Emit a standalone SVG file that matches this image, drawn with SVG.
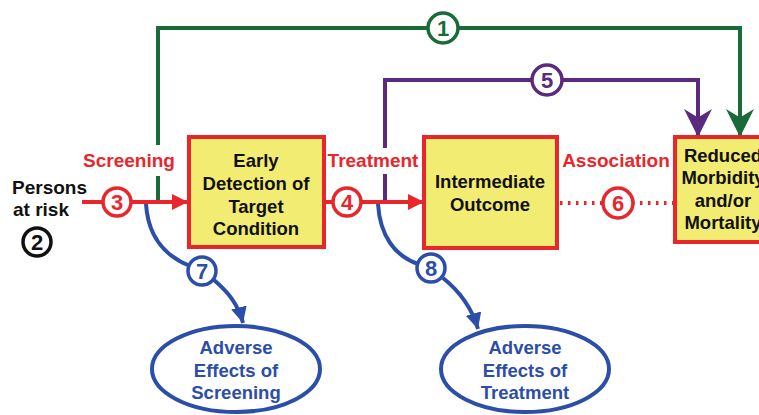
<svg xmlns="http://www.w3.org/2000/svg" width="759" height="415" viewBox="0 0 759 415">
<style>
.box{fill:#f2ec72;stroke:#e8262c;stroke-width:4}
.t{font-family:"Liberation Sans",Arial,sans-serif;font-weight:bold;font-size:18.5px;text-anchor:middle}
.lab{font-size:19px}
.bk{fill:#111}
.rd{fill:#e8262c}
.bl{fill:#2b4ea8}
.gn{fill:#1a6b3a}
.pp{fill:#5a2a7e}
.num{font-family:"Liberation Sans",Arial,sans-serif;font-weight:bold;font-size:22px;text-anchor:middle}
.circ{fill:#fff;stroke-width:3.5}
.ell{fill:#fff;stroke:#2b4ea8;stroke-width:4}
</style>
<defs>
<marker id="ar" viewBox="0 0 10 10" refX="10" refY="5" markerWidth="4" markerHeight="4" markerUnits="strokeWidth" orient="auto"><path d="M0,0 L10,5 L0,10 z" fill="#e8262c"/></marker>
<marker id="ag" viewBox="0 0 10 10" refX="10" refY="5" markerWidth="7" markerHeight="7" markerUnits="strokeWidth" orient="auto"><path d="M0,0 L10,5 L0,10 L3,5 z" fill="#1a6b3a"/></marker>
<marker id="ap" viewBox="0 0 10 10" refX="10" refY="5" markerWidth="7" markerHeight="7" markerUnits="strokeWidth" orient="auto"><path d="M0,0 L10,5 L0,10 L3,5 z" fill="#5a2a7e"/></marker>
<marker id="ab" viewBox="0 0 10 10" refX="10" refY="5" markerWidth="4" markerHeight="4" markerUnits="strokeWidth" orient="auto"><path d="M0,0 L10,5 L0,10 z" fill="#2b4ea8"/></marker>
</defs>
<rect width="759" height="415" fill="#fff"/>
<g id="connectors" fill="none">
<path d="M158,145 V28 H740 V137" stroke="#1a6b3a" stroke-width="4" marker-end="url(#ag)"/>
<path d="M158,176 V202" stroke="#1a6b3a" stroke-width="4"/>
<path d="M385,148 V80 H698 V137" stroke="#5a2a7e" stroke-width="4" marker-end="url(#ap)"/>
<path d="M385,174 V202" stroke="#5a2a7e" stroke-width="4"/>
<path d="M82,202 H188" stroke="#e8262c" stroke-width="4" marker-end="url(#ar)"/>
<path d="M324,202 H424" stroke="#e8262c" stroke-width="4" marker-end="url(#ar)"/>
<path d="M560,203 H675" stroke="#e8262c" stroke-width="4" stroke-dasharray="2.5,5.5"/>
<path d="M146,204 C148,236 165,256 190,266" stroke="#2b4ea8" stroke-width="4"/>
<path d="M214,280 C228,292 238,304 243,323" stroke="#2b4ea8" stroke-width="4" marker-end="url(#ab)"/>
<path d="M378,204 C380,236 395,256 418,264" stroke="#2b4ea8" stroke-width="4"/>
<path d="M443,278 C458,290 471,305 478,329" stroke="#2b4ea8" stroke-width="4" marker-end="url(#ab)"/>
</g>
<g id="label-screening"><text class="t lab rd" x="129" y="167">Screening</text></g>
<g id="label-treatment"><text class="t lab rd" x="373" y="167">Treatment</text></g>
<g id="label-association"><text class="t lab rd" x="616" y="167">Association</text></g>
<g id="persons">
<text class="t lab bk" x="12" y="194" style="text-anchor:start">Persons</text>
<text class="t lab bk" x="13" y="216" style="text-anchor:start">at risk</text>
</g>
<g id="n1"><circle class="circ" cx="443" cy="28" r="15" stroke="#1a6b3a"/><text class="num gn" x="443" y="36">1</text></g>
<g id="n2"><circle class="circ" cx="37" cy="242" r="14" stroke="#111"/><text class="num bk" x="37" y="250">2</text></g>
<g id="n3"><circle class="circ" cx="117" cy="202" r="14" stroke="#e8262c"/><text class="num rd" x="117" y="210">3</text></g>
<g id="n4"><circle class="circ" cx="347" cy="202" r="14" stroke="#e8262c"/><text class="num rd" x="347" y="210">4</text></g>
<g id="n5"><circle class="circ" cx="547" cy="80" r="15" stroke="#5a2a7e"/><text class="num pp" x="547" y="88">5</text></g>
<g id="n6"><circle class="circ" cx="618" cy="203" r="15" stroke="#e8262c"/><text class="num rd" x="618" y="211">6</text></g>
<g id="n7"><circle class="circ" cx="202" cy="271" r="14" stroke="#2b4ea8"/><text class="num bl" x="202" y="279">7</text></g>
<g id="n8"><circle class="circ" cx="431" cy="268" r="14" stroke="#2b4ea8"/><text class="num bl" x="431" y="276">8</text></g>
<g id="early-detection">
<rect class="box" x="189" y="137" width="135" height="110"/>
<text class="t bk" x="256" y="167">Early</text>
<text class="t bk" x="256" y="190">Detection of</text>
<text class="t bk" x="256" y="213">Target</text>
<text class="t bk" x="256" y="235">Condition</text>
</g>
<g id="intermediate-outcome">
<rect class="box" x="424" y="137" width="133" height="111"/>
<text class="t bk" x="490" y="188">Intermediate</text>
<text class="t bk" x="490" y="211">Outcome</text>
</g>
<g id="reduced">
<rect class="box" x="675" y="137" width="95" height="105"/>
<text class="t bk" x="723" y="162">Reduced</text>
<text class="t bk" x="723" y="184">Morbidity</text>
<text class="t bk" x="723" y="207">and/or</text>
<text class="t bk" x="723" y="229">Mortality</text>
</g>
<g id="adverse-screening">
<ellipse class="ell" cx="236" cy="369" rx="84" ry="43"/>
<text class="t bl" x="236" y="354">Adverse</text>
<text class="t bl" x="236" y="377">Effects of</text>
<text class="t bl" x="236" y="399">Screening</text>
</g>
<g id="adverse-treatment">
<ellipse class="ell" cx="525" cy="369" rx="84" ry="43"/>
<text class="t bl" x="525" y="354">Adverse</text>
<text class="t bl" x="525" y="377">Effects of</text>
<text class="t bl" x="525" y="399">Treatment</text>
</g>
</svg>
